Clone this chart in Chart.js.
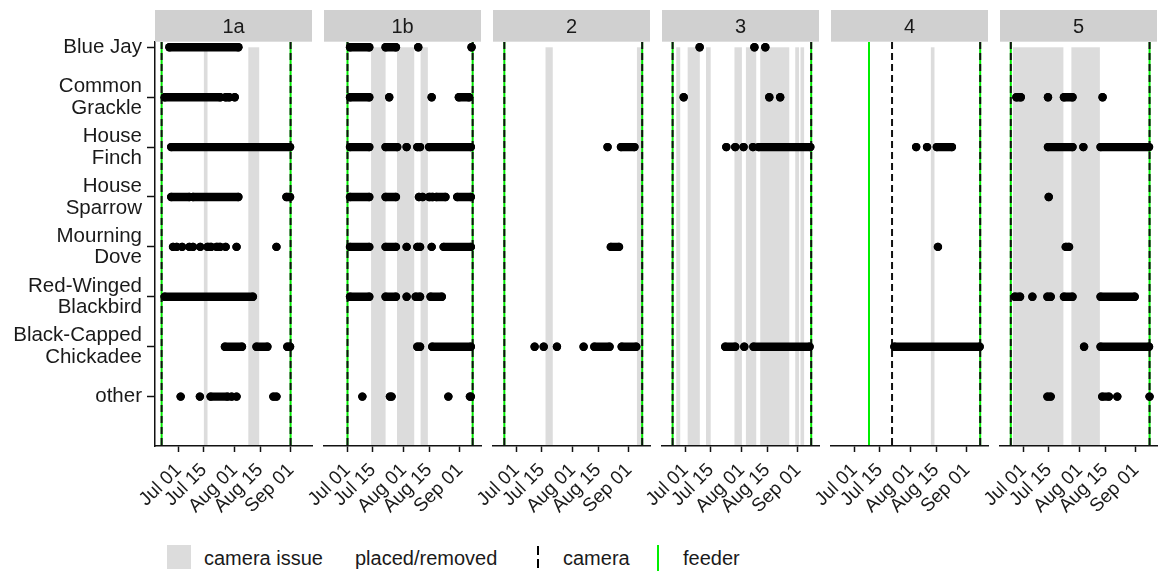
<!DOCTYPE html>
<html>
<head>
<meta charset="utf-8">
<script src="https://cdn.jsdelivr.net/npm/chart.js@4.4.1/dist/chart.umd.min.js"></script>
<style>
  body { margin: 0; background: #fff; width: 1158px; height: 574px; position: relative; overflow: hidden;
         font-family: "Liberation Sans", Arial, sans-serif; color: #1a1a1a; }
  canvas { position: absolute; top: 0; }
  .key { position: absolute; }
  .lbl { position: absolute; top: 545px; height: 26px; line-height: 26px; font-size: 20px; white-space: nowrap; }
</style>
</head>
<body>
<div class="key" style="left:167px;top:545px;width:24px;height:24px;background:#dcdcdc"></div>
<div class="lbl" style="left:204px">camera issue</div>
<div class="lbl" style="left:355px">placed/removed</div>
<div class="key" style="left:537px;top:546px;width:2px;height:25px;background:repeating-linear-gradient(to bottom,#000 0 9px,transparent 9px 13px)"></div>
<div class="lbl" style="left:563px">camera</div>
<div class="key" style="left:657px;top:545px;width:2px;height:26px;background:#00ee00"></div>
<div class="lbl" style="left:683px">feeder</div>

<script>
// days counted from Jul 01
const species = ['Blue Jay', ['Common', 'Grackle'], ['House', 'Finch'], ['House', 'Sparrow'],
  ['Mourning', 'Dove'], ['Red-Winged', 'Blackbird'], ['Black-Capped', 'Chickadee'], 'other'];
const sites = ['1a', '1b', '2', '3', '4', '5'];
const tickDays = [0, 14, 31, 45, 62];
const tickLabels = ['Jul 01', 'Jul 15', 'Aug 01', 'Aug 15', 'Sep 01'];

// camera placed/removed and feeder placed/removed, per site
const cameraDays = [[-9.3, 61.8], [0, 69], [-6.7, 69.3], [-7.1, 69.3], [20.7, 69.3], [-7, 69.5]];
const feederDays = [[-9.3, 61.8], [0, 69], [-6.7, 69.3], [-7.1, 69.3], [8, 69.3], [-7, 69.5]];

// camera issue periods [from, to]
const issues1a = [[14, 16], [38.5, 44.5]];
const issues1b = [[13, 21], [27.3, 36.8], [40.3, 44.3]];
const issues2 = [[16, 20], [66.4, 69.3]];
const issues3 = [[-5.1, -2.9], [1.2, 7.9], [11.3, 13.9], [27, 31.1], [33.3, 39], [41.2, 57.2], [60.5, 62.6], [63.4, 65.4]];
const issues4 = [[42.1, 44.1]];
const issues5 = [[-5.8, 22], [26.4, 42.1]];

// detection runs per species (same order as species): [first day, last day] or [single day]
const seen1a = [
  [[-5, 33]],
  [[-7.6, 23], [26, 28], [31]],
  [[-4, 61.5]],
  [[-4, 6], [8, 33], [59.5, 61.5]],
  [[-3], [-1], [2], [6], [8], [12], [16, 18], [21, 23], [26], [32], [54]],
  [[-7.6, 41]],
  [[25.6, 35], [43, 49], [60, 61.5]],
  [[1.2], [11.8], [17.7, 27], [29.3], [32], [52.3, 54]]
];
const seen1b = [
  [[1.4, 12], [21, 26.7], [39], [68.4]],
  [[1.4, 12], [23], [46.4], [61.4, 67]],
  [[1.4, 12], [21, 27.4], [32.6], [38.5, 40], [45, 68]],
  [[1.4, 12], [21, 26.7], [39.4], [41.4], [45, 47], [49, 54], [60.5, 68]],
  [[1.4, 12], [21, 26.7], [32.6], [38.5, 40], [46.4], [53, 68]],
  [[1.4, 12], [21, 26.7], [32.6], [37.6, 40], [45.8, 52]],
  [[38.5, 40], [46.7, 68]],
  [[8.2], [23.4, 24.3], [55.6], [67.5, 68]]
];
const seen2 = [
  [], [],
  [[50.2], [57.6, 65]],
  [],
  [[52, 56.5]],
  [],
  [[10], [15], [22.3], [37], [42.9, 51.3], [58, 66]],
  []
];
const seen3 = [
  [[7.8], [38], [44]],
  [[-1], [46.2], [52.2]],
  [[22.5], [27.4], [32], [37.2], [40.3, 68.8]],
  [], [], [],
  [[21.9, 27.4], [32.4], [37.5, 68.4]],
  []
];
const seen4 = [
  [], [],
  [[34], [40], [45.4, 53.7]],
  [],
  [[46]],
  [],
  [[22, 69]],
  []
];
const seen5 = [
  [],
  [[-3.9, -1.5], [13.5], [22.3, 27], [43.6]],
  [[13.5, 27], [33], [42.5, 69.2]],
  [[13.9]],
  [[23.3, 25.1]],
  [[-4.8, -1.9], [4.9], [13.2, 15], [22.3, 27], [42.5, 61.3]],
  [[33.4], [42.5, 69.2]],
  [[13.2, 15], [43.4, 47.1], [51.7], [69.5]]
];

const issues = [issues1a, issues1b, issues2, issues3, issues4, issues5];
const seen = [seen1a, seen1b, seen2, seen3, seen4, seen5];

const panelLeft = [155, 324, 493, 662, 831, 999.5];
const panelW = 157;
const dayMin = -12.95, dayMax = 73.6;
const yMin = -0.106, yMax = 7.99;
const FONT = '"Liberation Sans", Arial, sans-serif';
Chart.defaults.font.family = FONT;

const stripPlugin = {
  id: 'strip',
  afterDraw(chart, args, opts) {
    const { ctx, chartArea: a } = chart;
    ctx.save();
    ctx.fillStyle = '#d0d0d0';
    ctx.fillRect(a.left, 10, a.right - a.left, 31.7);
    ctx.fillStyle = '#1a1a1a';
    ctx.font = '20px ' + FONT;
    ctx.textAlign = 'center';
    ctx.textBaseline = 'middle';
    ctx.fillText(opts.label, (a.left + a.right) / 2, 27);
    ctx.restore();
  }
};

const bandPlugin = {
  id: 'bands',
  beforeDatasetsDraw(chart, args, opts) {
    const { ctx, chartArea: a, scales } = chart;
    const top = scales.y.getPixelForValue(0);
    ctx.save();
    ctx.beginPath();
    ctx.rect(a.left, a.top, a.right - a.left, a.bottom - a.top);
    ctx.clip();
    ctx.fillStyle = '#dcdcdc';
    opts.spans.forEach(s => {
      const x0 = scales.x.getPixelForValue(s[0]);
      const x1 = scales.x.getPixelForValue(s[1]);
      ctx.fillRect(x0, top, x1 - x0, a.bottom - top);
    });
    ctx.restore();
  }
};

function runPoints(runs, row) {
  const pts = [];
  runs.forEach(r => {
    pts.push({ x: r[0], y: row });
    if (r.length > 1) pts.push({ x: r[1], y: row });
    pts.push({ x: r[r.length - 1], y: null });
  });
  return pts;
}

function vLines(days) {
  const pts = [];
  days.forEach(d => {
    pts.push({ x: d, y: yMin }, { x: d, y: yMax }, { x: d, y: null });
  });
  return pts;
}

sites.forEach((site, i) => {
  const first = i === 0;
  const padL = first ? 0 : 40;
  const left = first ? 0 : panelLeft[i] - padL;
  const width = (first ? panelLeft[0] : padL) + panelW + 12;
  const cv = document.createElement('canvas');
  cv.width = width;
  cv.height = 520;
  cv.style.left = left + 'px';
  cv.style.width = width + 'px';
  cv.style.height = '520px';
  document.body.appendChild(cv);

  const datasets = [];
  seen[i].forEach((runs, row) => {
    datasets.push({
      data: runPoints(runs, row),
      borderColor: '#000', borderWidth: 8.4, borderCapStyle: 'round',
      pointRadius: 4.2, pointBackgroundColor: '#000', pointBorderWidth: 0,
      spanGaps: false, tension: 0
    });
  });
  datasets.push({
    data: vLines(cameraDays[i]),
    borderColor: '#111', borderWidth: 2, borderDash: [7, 4], pointRadius: 0, spanGaps: false
  });
  datasets.push({
    data: vLines(feederDays[i]),
    borderColor: '#00ee00', borderWidth: 2, pointRadius: 0, spanGaps: false
  });

  const yScale = {
    type: 'linear', reverse: true, min: yMin, max: yMax, display: first,
    afterBuildTicks: s => { s.ticks = species.map((n, k) => ({ value: k })); },
    ticks: {
      autoSkip: false, padding: 5, color: '#1a1a1a',
      font: { size: 20.5, lineHeight: 1.06 },
      callback: (v, idx) => species[idx]
    },
    grid: { display: true, drawOnChartArea: false, drawTicks: true, tickLength: 8, tickWidth: 1.5, tickColor: '#111' },
    border: { display: true, color: '#111', width: 1.5, z: 1 }
  };
  if (first) yScale.afterFit = s => { s.width = panelLeft[0]; };

  new Chart(cv, {
    type: 'line',
    data: { datasets },
    plugins: [bandPlugin, stripPlugin],
    options: {
      responsive: false,
      animation: false,
      events: [],
      layout: { padding: { top: 42, left: padL, right: 12, bottom: 0 } },
      plugins: {
        legend: { display: false },
        tooltip: { enabled: false },
        bands: { spans: issues[i] },
        strip: { label: site }
      },
      scales: {
        x: {
          type: 'linear', min: dayMin, max: dayMax,
          afterBuildTicks: s => { s.ticks = tickDays.map(v => ({ value: v })); },
          afterFit: s => { s.height = 74; },
          ticks: {
            autoSkip: false, minRotation: 45, maxRotation: 45, padding: 7,
            color: '#1a1a1a', font: { size: 19 },
            callback: (v, idx) => tickLabels[idx]
          },
          grid: { display: true, drawOnChartArea: false, drawTicks: true, tickLength: 6, tickWidth: 1.5, tickColor: '#111' },
          border: { display: true, color: '#111', width: 1.5, z: 1 }
        },
        y: yScale
      }
    }
  });
});
</script>
</body>
</html>
